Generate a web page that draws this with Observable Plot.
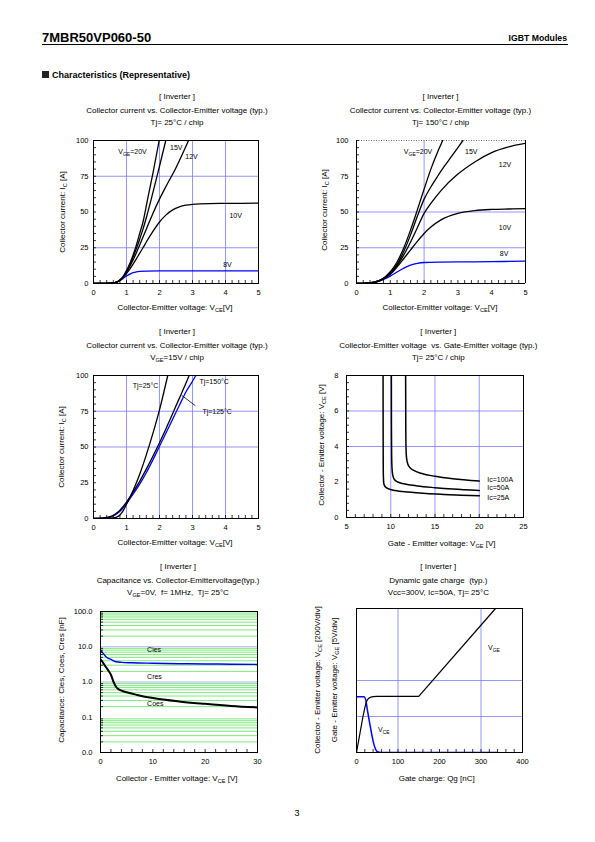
<!DOCTYPE html>
<html><head><meta charset="utf-8">
<script src="https://cdn.jsdelivr.net/npm/d3@7"></script>
<script src="https://cdn.jsdelivr.net/npm/@observablehq/plot@0.6"></script>
<style>
html,body{margin:0;padding:0;background:#fff;}
#page{position:relative;width:595px;height:842px;overflow:hidden;font-family:"Liberation Sans",Arial,sans-serif;color:#000;background:#fff;}
.t{position:absolute;white-space:nowrap;line-height:1;transform:translate(-50%,-50%);}
.t sub{font-size:70%;vertical-align:-0.3em;line-height:0;}
.ry{transform:translate(-50%,-50%) rotate(-90deg);}
</style></head><body><div id="page"></div>
<script>
// ---------------- DATA ----------------
// Chart 1: Tj=25°C, Ic vs Vce for VGE levels  [Vce, Ic]
const t25_vge20 = [[0,0],[0.3,0.1],[0.6,0.4],[0.7,1],[0.8,2.5],[0.9,5],[1.0,9],[1.1,14],[1.2,20],[1.3,27],[1.4,35],[1.5,43],[1.64,59],[1.8,77],[1.99,100]];
const t25_vge15 = [[0,0],[0.3,0.1],[0.6,0.4],[0.7,1],[0.8,2.4],[0.9,4.8],[1.0,8.5],[1.1,13],[1.2,18.5],[1.3,24.5],[1.4,31],[1.5,38],[1.6,46],[1.75,59],[2.0,82],[2.19,100]];
const t25_vge12 = [[0,0],[0.3,0.1],[0.6,0.4],[0.7,1],[0.8,2.3],[0.9,4.5],[1.0,8],[1.1,12],[1.2,16.5],[1.3,21.5],[1.4,27],[1.6,38],[1.8,49],[2.0,59],[2.2,68],[2.5,81],[2.88,100]];
const t25_vge10 = [[0,0],[0.3,0.1],[0.6,0.4],[0.7,1],[0.8,2.2],[0.9,4.2],[1.0,7],[1.1,10],[1.2,13.5],[1.3,17.3],[1.4,21.2],[1.5,25],[1.6,29],[1.8,36.5],[2.0,43],[2.2,48],[2.4,51.5],[2.6,53.6],[2.8,54.8],[3.0,55.4],[3.5,55.9],[4.0,56],[5.0,56.2]];
const t25_vge8  = [[0,0],[0.3,0.1],[0.6,0.4],[0.7,1],[0.8,2.1],[0.9,3.6],[1.0,5.2],[1.1,6.6],[1.2,7.6],[1.3,8.2],[1.4,8.5],[1.6,8.7],[2.0,8.8],[5.0,8.8]];
// Chart 2: Tj=150°C
const t150_vge20 = [[0,0],[0.3,0.3],[0.5,0.8],[0.6,1.4],[0.7,2.4],[0.8,3.8],[0.9,5.8],[1.0,8.2],[1.2,15],[1.4,25],[1.6,37.5],[1.8,51.5],[2.0,66],[2.2,80],[2.4,92],[2.55,100]];
const t150_vge15 = [[0,0],[0.3,0.3],[0.5,0.8],[0.6,1.4],[0.7,2.3],[0.8,3.6],[0.9,5.4],[1.0,7.6],[1.2,13.5],[1.4,22.5],[1.6,34],[1.8,47],[2.0,59],[2.2,67.5],[2.4,75],[2.6,82],[2.8,88.5],[3.0,95],[3.15,100]];
const t150_vge12 = [[0,0],[0.3,0.3],[0.5,0.8],[0.6,1.3],[0.7,2.2],[0.8,3.4],[0.9,5],[1.0,7],[1.2,12.5],[1.4,20],[1.6,29],[1.8,39],[2.0,49],[2.2,56],[2.5,65],[3.0,76.5],[3.5,85],[4.0,91.5],[4.5,95.5],[5.0,98]];
const t150_vge10 = [[0,0],[0.3,0.3],[0.5,0.8],[0.6,1.3],[0.7,2.1],[0.8,3.2],[0.9,4.7],[1.0,6.5],[1.2,11.5],[1.4,17.5],[1.6,23.5],[1.8,29.5],[2.0,35],[2.2,39.5],[2.5,44.5],[3.0,49],[3.5,51],[4.0,51.8],[4.5,52.1],[5.0,52.3]];
const t150_vge8  = [[0,0],[0.3,0.3],[0.5,0.8],[0.6,1.2],[0.7,1.9],[0.8,2.8],[0.9,3.9],[1.0,5.2],[1.2,8],[1.4,10.7],[1.6,12.8],[1.8,14.1],[2.0,14.7],[2.5,15],[3.0,15.1],[4.0,15.3],[5.0,15.6]];
// Chart 3: VGE=15V, by junction temperature
const vge15_tj25  = [[0,0],[0.3,0.1],[0.6,0.4],[0.7,1],[0.8,2.5],[0.9,5.5],[1.0,10],[1.1,14.5],[1.2,19.5],[1.3,25],[1.4,31],[1.5,37.5],[1.6,44.5],[1.8,59.5],[2.0,76],[2.25,100]];
const vge15_tj150 = [[0,0],[0.2,0.2],[0.4,0.7],[0.5,1.3],[0.6,2.3],[0.7,3.8],[0.8,5.8],[0.9,8.5],[1.0,11.5],[1.2,18.5],[1.4,26],[1.6,34.5],[1.8,43.5],[2.0,53],[2.2,63],[2.4,73.5],[2.6,84],[2.8,94.5],[2.9,100]];
const vge15_tj125 = [[0,0],[0.2,0.1],[0.4,0.5],[0.5,1],[0.6,1.8],[0.7,3.1],[0.8,5],[0.9,7.5],[1.0,10.5],[1.2,17],[1.4,24],[1.6,32],[1.8,41],[2.0,50.5],[2.2,60],[2.4,69.5],[2.6,79],[2.8,88.5],[3.0,96],[3.1,100]];
const tj125_pointer = [[2.68,86],[3.08,79]];
// Chart 4: Vce vs Vge  [Vge, Vce]
const ic25  = [[9.13,8],[9.14,5],[9.15,3],[9.17,2.3],[9.22,1.9],[9.35,1.75],[9.7,1.63],[10.5,1.52],[12,1.43],[14,1.35],[16,1.3],[18,1.26],[20,1.22]];
const ic50  = [[10.07,8],[10.08,5],[10.1,3.5],[10.14,2.8],[10.22,2.4],[10.4,2.15],[10.8,2.0],[11.5,1.9],[13,1.78],[15,1.68],[17,1.6],[20,1.52]];
const ic100 = [[11.68,8],[11.7,5],[11.72,4],[11.76,3.5],[11.85,3.15],[12.1,2.85],[12.6,2.65],[13.5,2.48],[15,2.32],[17,2.18],[20,2.05]];
// Chart 5: capacitance [Vce, nF]
const cies = [[0,7.8],[0.5,6.5],[1,5.3],[1.5,4.7],[2,4.4],[2.5,4.0],[3,3.75],[4,3.6],[6,3.5],[10,3.4],[15,3.3],[20,3.25],[25,3.2],[30,3.15]];
const coes = [[0,4.4],[0.5,3.5],[1,2.7],[1.5,2.1],[2,1.6],[2.5,1.0],[3,0.72],[3.5,0.62],[4,0.57],[5,0.51],[7,0.43],[10,0.35],[15,0.28],[20,0.24],[25,0.21],[30,0.19]];
// Chart 6: gate charge [Qg nC, V]
const qg_vge = [[0,0],[5,1.6],[10,3.2],[15,4.8],[20,6.2],[23,6.9],[26,7.3],[30,7.55],[35,7.7],[40,7.75],[50,7.8],[150,7.8],[335,20]];
const qg_vce = [[0,310],[18,310],[22,295],[26,240],[30,185],[34,135],[38,85],[42,45],[46,18],[50,5],[55,1],[60,0],[340,0]];
const vcePerDiv = 200, vgePerDiv = 5;
// Tick labels
const vceTicks = [0,1,2,3,4,5];
const icTicks = [0,25,50,75,100];
const vgeTicks = [5,10,15,20,25];
const vceTicks4 = [0,2,4,6,8];
const capXTicks = [0,10,20,30];
const capYTicks = [0.01,0.1,1,10,100];
const qgTicks = [0,100,200,300,400];
// Labels
const labels1 = [{x:0.75,y:92.3,t:"V_{GE}=20V"},{x:2.32,y:95,t:"15V"},{x:2.78,y:88.8,t:"12V"},{x:4.12,y:47.4,t:"10V"},{x:3.93,y:13,t:"8V"}];
const labels2 = [{x:1.40,y:92.3,t:"V_{GE}=20V"},{x:3.21,y:92.3,t:"15V"},{x:4.21,y:83.2,t:"12V"},{x:4.21,y:39.3,t:"10V"},{x:4.24,y:20.6,t:"8V"}];
const labels3 = [{x:1.19,y:92.5,t:"Tj=25°C"},{x:3.21,y:95.8,t:"Tj=150°C"},{x:3.30,y:75,t:"Tj=125°C"}];
const labels4 = [{x:20.9,y:2.15,t:"Ic=100A"},{x:20.9,y:1.65,t:"Ic=50A"},{x:20.9,y:1.14,t:"Ic=25A"}];
const labels5 = [{x:8.9,y:8.1,t:"Cies"},{x:8.9,y:1.37,t:"Cres"},{x:8.9,y:0.242,t:"Coes"}];
const labels6 = [{x:317,y:14.6,t:"V_{GE}"},{x:52,y:3.2,t:"V_{CE}"}];

// ---------------- LAYOUT HELPERS ----------------
const page = document.getElementById("page");
const NS = "http://www.w3.org/2000/svg";
const GRID = "#7a7aff";
const XY = {x: d => d[0], y: d => d[1]};
const range = (a, b, s) => d3.range(a, b + s / 2, s);

function txt(x, y, html, style = "", cls = "") {
  const d = document.createElement("div");
  d.className = "t " + cls;
  d.style.cssText = `left:${x}px;top:${y}px;` + style;
  d.innerHTML = html;
  page.appendChild(d);
}
function subify(svg) {
  svg.querySelectorAll("text").forEach(t => {
    const s = t.textContent;
    if (!s.includes("_{") || t.querySelector("tspan")) return;
    t.textContent = "";
    s.split(/(_\{[^}]*\})/).filter(p => p).forEach((p, i, arr) => {
      const ts = document.createElementNS(NS, "tspan");
      if (p.startsWith("_{")) {
        ts.textContent = p.slice(2, -1);
        ts.setAttribute("font-size", "5px");
        ts.setAttribute("dy", "2");
      } else {
        ts.textContent = p;
        if (i > 0 && arr[i - 1].startsWith("_{")) ts.setAttribute("dy", "-2");
      }
      t.appendChild(ts);
    });
  });
}
function chart(frame, scales, marks) {
  const [x1, y1, x2, y2] = frame;
  const sx = x1 - 60, sy = y1 - 14, sw = x2 - sx + 16, sh = y2 - sy + 24;
  const svg = Plot.plot({
    width: sw, height: sh,
    marginLeft: x1 - sx, marginTop: y1 - sy, marginRight: sx + sw - x2, marginBottom: sy + sh - y2,
    style: {fontFamily: "'Liberation Sans', Arial, sans-serif", fontSize: "7.5px", background: "transparent", overflow: "visible", color: "#000"},
    ...scales,
    marks
  });
  svg.style.position = "absolute";
  svg.style.left = sx + "px";
  svg.style.top = sy + "px";
  subify(svg);
  page.appendChild(svg);
}
const minorX = (t) => Plot.axisX(t, {tickSize: 3, dy: -3, fill: "none", tickFormat: () => "", label: null, strokeWidth: 0.8});
const minorY = (t) => Plot.axisY(t, {tickSize: 3, dx: 3, fill: "none", tickFormat: () => "", label: null, strokeWidth: 0.8});
const majorX = (t, o = {}) => Plot.axisX(t, {tickSize: 0, tickPadding: 6, label: null, ...o});
const majorY = (t, o = {}) => Plot.axisY(t, {tickSize: 0, tickPadding: 5, label: null, ...o});
const curve = (d, stroke = "#000", w = 1.3, c = "monotone-x") => Plot.line(d, {...XY, stroke, strokeWidth: w, curve: c, clip: true});
const lbl = (d, o = {}) => Plot.text(d, {x: "x", y: "y", text: "t", textAnchor: "start", fontSize: 7, ...o});

// ---------------- PAGE HEADER ----------------
txt(42, 37, "7MBR50VP060-50", "font-size:13px;font-weight:bold;transform:translate(0,-50%);");
txt(567, 38, "IGBT Modules", "font-size:8.7px;font-weight:bold;transform:translate(-100%,-50%);");
const rule = document.createElement("div");
rule.style.cssText = "position:absolute;left:42px;top:44px;width:526px;height:0;border-top:1px solid #000;";
page.appendChild(rule);
const sq = document.createElement("div");
sq.style.cssText = "position:absolute;left:42px;top:71px;width:7px;height:7px;background:#222;";
page.appendChild(sq);
txt(52, 75, "Characteristics (Representative)", "font-size:9px;font-weight:bold;transform:translate(0,-50%);");
txt(297, 813, "3", "font-size:9px;");

function titles(cx, y0, lines) {
  lines.forEach((l, i) => txt(cx, y0 + [0, 13.7, 26][i], l, "font-size:8px;"));
}

// ---------------- CHART 1 ----------------
titles(177, 97.3, ["[ Inverter ]", "Collector current vs. Collector-Emitter voltage (typ.)", "Tj= 25°C / chip"]);
chart([93, 140, 258, 283], {x: {domain: [0, 5]}, y: {domain: [0, 100]}}, [
  Plot.ruleX([1, 2, 3, 4], {stroke: GRID, strokeWidth: 0.8}),
  Plot.ruleY([25, 75], {stroke: GRID, strokeWidth: 0.8}),
  curve(t25_vge8, "#0000ff"), curve(t25_vge10), curve(t25_vge12), curve(t25_vge15), curve(t25_vge20),
  lbl(labels1),
  Plot.frame({stroke: "#000"}),
  minorX(range(0, 5, 0.2)), minorY(range(0, 100, 5)),
  majorX(vceTicks), majorY(icTicks)
]);
txt(175, 308.3, "Collector-Emitter voltage: V<sub>CE</sub>[V]", "font-size:8px;");
txt(63.3, 211.7, "Collector current: I<sub>C</sub> [A]", "font-size:8px;", "ry");

// ---------------- CHART 2 ----------------
titles(440.5, 97.3, ["[ Inverter ]", "Collector current vs. Collector-Emitter voltage (typ.)", "Tj= 150°C / chip"]);
chart([356, 140, 525, 283], {x: {domain: [0, 5]}, y: {domain: [0, 100]}}, [
  Plot.ruleX([2], {stroke: GRID, strokeWidth: 0.8}),
  Plot.ruleY([25, 50], {stroke: GRID, strokeWidth: 0.8}),
  curve(t150_vge8, "#0000ff"), curve(t150_vge10), curve(t150_vge12), curve(t150_vge15), curve(t150_vge20),
  lbl(labels2),
  Plot.ruleY([100], {stroke: "#666", strokeWidth: 1, strokeDasharray: "1,1.5"}),
  Plot.ruleX([0, 5], {stroke: "#000"}),
  Plot.ruleY([0], {stroke: "#000"}),
  minorX(range(0, 5, 0.2)), minorY(range(0, 100, 5)),
  majorX(vceTicks), majorY(icTicks, {tickPadding: 8})
]);
txt(440, 308.3, "Collector-Emitter voltage: V<sub>CE</sub>[V]", "font-size:8px;");
txt(325, 210, "Collector current: I<sub>C</sub> [A]", "font-size:8px;", "ry");

// ---------------- CHART 3 ----------------
titles(177, 332.3, ["[ Inverter ]", "Collector current vs. Collector-Emitter voltage (typ.)", "V<sub>GE</sub>=15V / chip"]);
chart([93, 375, 258, 518], {x: {domain: [0, 5]}, y: {domain: [0, 100]}}, [
  Plot.ruleX([1, 2, 3, 4], {stroke: GRID, strokeWidth: 0.8}),
  Plot.ruleY([50, 75], {stroke: GRID, strokeWidth: 0.8}),
  curve(vge15_tj125, "#0000ff"), curve(vge15_tj150), curve(vge15_tj25),
  Plot.line(tj125_pointer, {...XY, stroke: "#000", strokeWidth: 0.8}),
  lbl(labels3),
  Plot.frame({stroke: "#000"}),
  minorX(range(0, 5, 0.2)), minorY(range(0, 100, 5)),
  majorX(vceTicks), majorY(icTicks)
]);
txt(175, 543.3, "Collector-Emitter voltage: V<sub>CE</sub>[V]", "font-size:8px;");
txt(61.7, 446.7, "Collector current: I<sub>C</sub> [A]", "font-size:8px;", "ry");

// ---------------- CHART 4 ----------------
titles(438.3, 332.3, ["[ Inverter ]", "Collector-Emitter voltage&nbsp; vs. Gate-Emitter voltage (typ.)", "Tj= 25°C / chip"]);
chart([346, 375, 523, 517], {x: {domain: [5, 25]}, y: {domain: [0, 8]}}, [
  Plot.ruleX([10, 15, 20], {stroke: GRID, strokeWidth: 0.8}),
  Plot.ruleY([4, 6], {stroke: GRID, strokeWidth: 0.8}),
  curve(ic25, "#000", 1.5), curve(ic50, "#000", 1.5), curve(ic100, "#000", 1.5),
  lbl(labels4),
  Plot.frame({stroke: "#000"}),
  minorX(range(5, 25, 1)), minorY(range(0, 8, 0.4)),
  majorX(vgeTicks), majorY(vceTicks4, {tickPadding: 8})
]);
txt(441.7, 544.3, "Gate - Emitter voltage: V<sub>GE</sub> [V]", "font-size:8px;");
txt(321.7, 445, "Collector - Emitter voltage: V<sub>CE</sub> [V]", "font-size:8px;", "ry");

// ---------------- CHART 5 ----------------
titles(178, 567.3, ["[ Inverter ]", "Capacitance vs. Collector-Emittervoltage(typ.)", "V<sub>GE</sub>=0V,&nbsp; f= 1MHz,&nbsp; Tj= 25°C"]);
const decades = [0.01, 0.1, 1, 10];
const greenLines = decades.flatMap(d => d3.range(2, 10).map(k => k * d));
chart([100, 611, 257, 752], {x: {domain: [0, 30]}, y: {type: "log", domain: [0.01, 100]}}, [
  Plot.ruleY(greenLines, {stroke: "#6ee86e", strokeWidth: 0.9}),
  Plot.ruleY([1, 10], {stroke: "#a8a8ff", strokeWidth: 0.9}),
  curve(coes, "#000", 2), curve(cies, "#0000ff", 1.4),
  lbl(labels5),
  Plot.frame({stroke: "#000"}),
  minorX(range(0, 30, 2)), minorY(greenLines),
  majorX(capXTicks), majorY(capYTicks, {tickPadding: 8, tickFormat: d => d.toFixed(1)})
]);
txt(176.7, 779.3, "Collector - Emitter voltage: V<sub>CE</sub> [V]", "font-size:8px;");
txt(61.7, 680, "Capacitance: Cies, Coes, Cres [nF]", "font-size:8px;", "ry");

// ---------------- CHART 6 ----------------
titles(438.3, 567.3, ["[ Inverter ]", "Dynamic gate charge&nbsp; (typ.)", "Vcc=300V, Ic=50A, Tj= 25°C"]);
const vceScaled = qg_vce.map(([q, v]) => [q, v / vcePerDiv * vgePerDiv]);
chart([356, 608, 522, 752], {x: {domain: [0, 400]}, y: {domain: [0, 20], axis: null}}, [
  Plot.ruleX([100, 300], {stroke: GRID, strokeWidth: 0.8}),
  Plot.ruleY([5, 10], {stroke: GRID, strokeWidth: 0.8}),
  curve(vceScaled, "#0000ff", 1.5), curve(qg_vge, "#000", 1.2, "linear"),
  lbl(labels6),
  Plot.frame({stroke: "#000"}),
  minorX(range(0, 400, 20)),
  majorX(qgTicks)
]);
txt(436.7, 779.3, "Gate charge: Qg [nC]", "font-size:8px;");
txt(318.3, 680, "Collector - Emitter voltage: V<sub>CE</sub> [200V/div]", "font-size:8px;", "ry");
txt(335, 680, "Gate - Emitter voltage: V<sub>GE</sub> [5V/div]", "font-size:8px;", "ry");
</script></body></html>
